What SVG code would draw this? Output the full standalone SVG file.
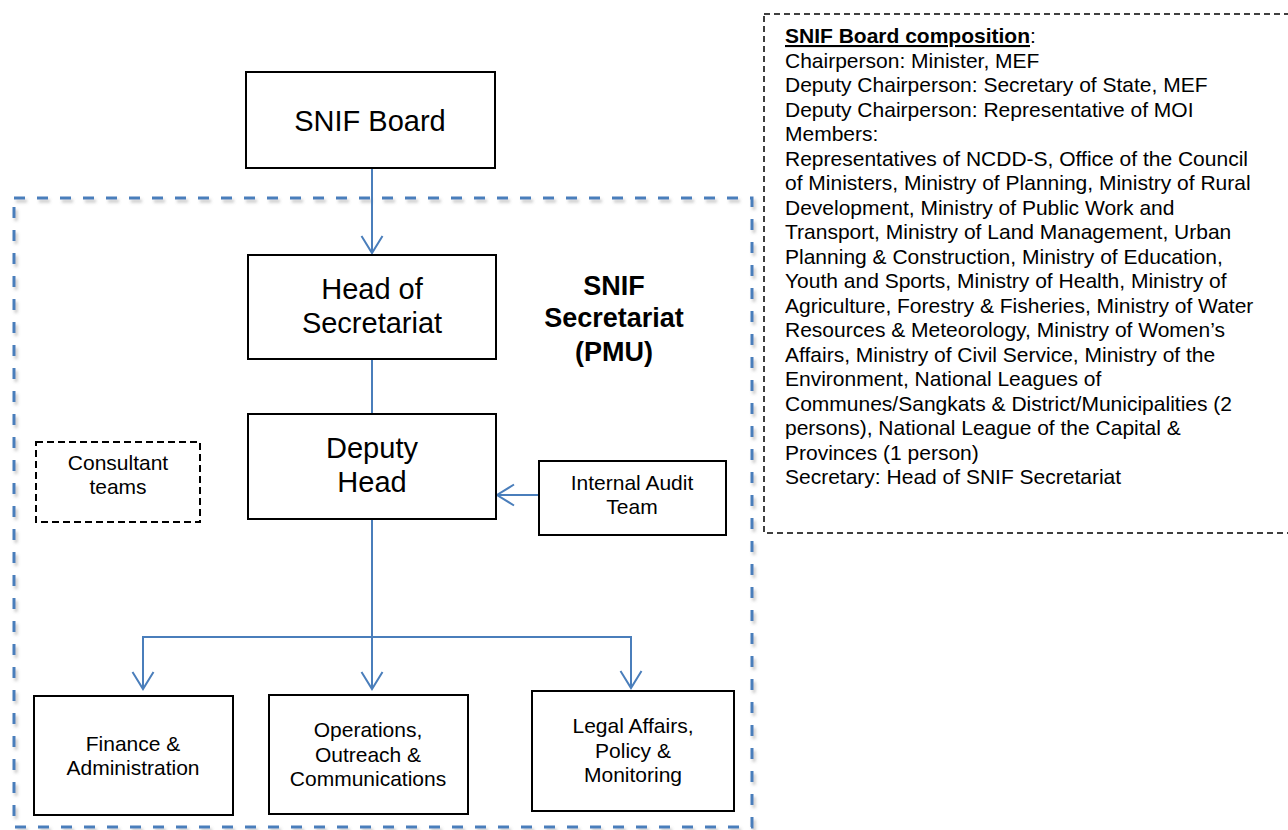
<svg xmlns="http://www.w3.org/2000/svg" width="1288" height="830" viewBox="0 0 1288 830">
  <style>
    text { font-family: "Liberation Sans", Arial, sans-serif; fill: #000; }
    .box { fill: #fff; stroke: #000; stroke-width: 2; }
    .big { font-size: 29px; text-anchor: middle; }
    .mid { font-size: 21px; text-anchor: middle; }
    .comp { font-size: 21px; }
    .conn { fill: none; stroke: #4a7ebb; stroke-width: 2; }
  </style>
  <defs>
    <marker id="arr" viewBox="-19 -12 21 24" refX="0" refY="0" markerWidth="21" markerHeight="24" markerUnits="userSpaceOnUse" orient="auto">
      <path d="M-17,-10.5 L0,0 L-17,10.5" fill="none" stroke="#4a7ebb" stroke-width="2"/>
    </marker>
    <filter id="shadow" x="-5%" y="-5%" width="110%" height="110%">
      <feDropShadow dx="2" dy="3" stdDeviation="1.5" flood-color="#808080" flood-opacity="0.45"/>
    </filter>
  </defs>

  <rect width="1288" height="830" fill="#fff"/>

  <!-- Secretariat container -->
  <g id="secretariat">
    <rect x="14" y="198" width="738" height="629" fill="none" stroke="#4a7ebb" stroke-width="3" stroke-dasharray="11 12" filter="url(#shadow)"/>
    <text x="614" y="295" font-size="27" font-weight="bold" text-anchor="middle">SNIF</text>
    <text x="614" y="327" font-size="27" font-weight="bold" text-anchor="middle">Secretariat</text>
    <text x="614" y="361" font-size="27" font-weight="bold" text-anchor="middle">(PMU)</text>
  </g>

  <!-- Composition box -->
  <g id="composition">
    <rect x="764" y="14" width="540" height="519" fill="#fff" stroke="#000" stroke-width="1.5" stroke-dasharray="6 4"/>
    <text class="comp" x="785" y="43"><tspan font-weight="bold" text-decoration="underline">SNIF Board composition</tspan>:</text>
    <text class="comp" x="785" y="67.5">Chairperson: Minister, MEF</text>
    <text class="comp" x="785" y="92">Deputy Chairperson: Secretary of State, MEF</text>
    <text class="comp" x="785" y="116.5">Deputy Chairperson: Representative of MOI</text>
    <text class="comp" x="785" y="141">Members:</text>
    <text class="comp" x="785" y="165.5">Representatives of NCDD-S, Office of the Council</text>
    <text class="comp" x="785" y="190">of Ministers, Ministry of Planning, Ministry of Rural</text>
    <text class="comp" x="785" y="214.5">Development, Ministry of Public Work and</text>
    <text class="comp" x="785" y="239">Transport, Ministry of Land Management, Urban</text>
    <text class="comp" x="785" y="263.5">Planning &amp; Construction, Ministry of Education,</text>
    <text class="comp" x="785" y="288">Youth and Sports, Ministry of Health, Ministry of</text>
    <text class="comp" x="785" y="312.5">Agriculture, Forestry &amp; Fisheries, Ministry of Water</text>
    <text class="comp" x="785" y="337">Resources &amp; Meteorology, Ministry of Women’s</text>
    <text class="comp" x="785" y="361.5">Affairs, Ministry of Civil Service, Ministry of the</text>
    <text class="comp" x="785" y="386">Environment, National Leagues of</text>
    <text class="comp" x="785" y="410.5">Communes/Sangkats &amp; District/Municipalities (2</text>
    <text class="comp" x="785" y="435">persons), National League of the Capital &amp;</text>
    <text class="comp" x="785" y="459.5">Provinces (1 person)</text>
    <text class="comp" x="785" y="484">Secretary: Head of SNIF Secretariat</text>
  </g>

  <!-- Connectors -->
  <g id="connectors">
    <line class="conn" x1="372" y1="168" x2="372" y2="253" marker-end="url(#arr)"/>
    <line class="conn" x1="372" y1="359" x2="372" y2="414"/>
    <line class="conn" x1="539" y1="495" x2="497" y2="495" marker-end="url(#arr)"/>
    <line class="conn" x1="372" y1="519" x2="372" y2="689" marker-end="url(#arr)"/>
    <polyline class="conn" points="372,637 143,637 143,689" marker-end="url(#arr)"/>
    <polyline class="conn" points="372,637 631,637 631,688" marker-end="url(#arr)"/>
  </g>

  <g id="snif-board">
    <rect class="box" x="246" y="72" width="249" height="96"/>
    <text class="big" x="370" y="131">SNIF Board</text>
  </g>

  <g id="head">
    <rect class="box" x="248" y="255" width="248" height="104"/>
    <text class="big" x="372" y="299">Head of</text>
    <text class="big" x="372" y="333">Secretariat</text>
  </g>

  <g id="deputy">
    <rect class="box" x="248" y="414" width="248" height="105"/>
    <text class="big" x="372" y="458">Deputy</text>
    <text class="big" x="372" y="492">Head</text>
  </g>

  <g id="audit">
    <rect class="box" x="539" y="461" width="187" height="74"/>
    <text class="mid" x="632" y="490">Internal Audit</text>
    <text class="mid" x="632" y="514">Team</text>
  </g>

  <g id="consultant">
    <rect x="36" y="442" width="164" height="80" fill="#fff" stroke="#000" stroke-width="2" stroke-dasharray="7 4"/>
    <text class="mid" x="118" y="470">Consultant</text>
    <text class="mid" x="118" y="494">teams</text>
  </g>

  <g id="finance">
    <rect class="box" x="34" y="696" width="199" height="119"/>
    <text class="mid" x="133" y="751">Finance &amp;</text>
    <text class="mid" x="133" y="775">Administration</text>
  </g>

  <g id="operations">
    <rect class="box" x="269" y="695" width="199" height="119"/>
    <text class="mid" x="368" y="737">Operations,</text>
    <text class="mid" x="368" y="761.5">Outreach &amp;</text>
    <text class="mid" x="368" y="786">Communications</text>
  </g>

  <g id="legal">
    <rect class="box" x="532" y="691" width="202" height="120"/>
    <text class="mid" x="633" y="733">Legal Affairs,</text>
    <text class="mid" x="633" y="757.5">Policy &amp;</text>
    <text class="mid" x="633" y="782">Monitoring</text>
  </g>
</svg>
